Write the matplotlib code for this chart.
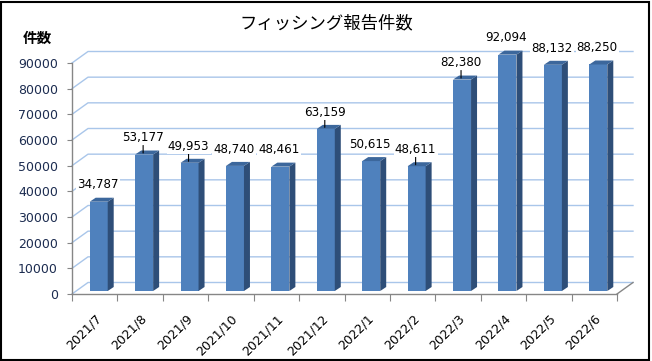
import numpy as np
import matplotlib.pyplot as plt
from matplotlib.patches import Rectangle

# Datos del grafico
months = ['2021/7', '2021/8', '2021/9', '2021/10', '2021/11', '2021/12',
          '2022/1', '2022/2', '2022/3', '2022/4', '2022/5', '2022/6']
counts = [34787, 53177, 49953, 48740, 48461, 63159,
          50615, 48611, 82380, 92094, 88132, 88250]
leader_idx = [1, 2, 5, 7, 8]  # etiquetas con linea guia
title = 'フィッシング報告件数'
y_title = '件数'
y_ticks = list(range(0, 90001, 10000))

W, H = 652, 361
fig = plt.figure(figsize=(W / 100, H / 100), dpi=100)

# eje frontal: x de 72 a 617 px, y de 294 (0) a 63 (90000)
x0_px, x1_px, y0_px, y1_px = 72, 617, 294, 63
ax = fig.add_axes([x0_px / W, (H - y0_px) / H, (x1_px - x0_px) / W, (y0_px - y1_px) / H])
n = len(months)
ax.set_xlim(-0.5, n - 0.5)
ax.set_ylim(0, 90000)
xpp = n / (x1_px - x0_px)        # unidades x por pixel
ypp = 90000 / (y0_px - y1_px)    # unidades y por pixel

grid_c = '#a9c6ea'
axis_c = '#868686'

# pared trasera con lineas de cuadricula
wall_dx, wall_dy = 16 * xpp, 11.5 * ypp
for v in y_ticks:
    ax.plot([-0.5, -0.5 + wall_dx, n - 0.5 + wall_dx], [v, v + wall_dy, v + wall_dy],
            color=grid_c, lw=1, clip_on=False, zorder=0)
# diagonal derecha del piso
ax.plot([n - 0.5, n - 0.5 + wall_dx], [0, wall_dy], color=axis_c, lw=1, clip_on=False, zorder=1)

# barras pseudo 3D
x = np.arange(n)
bw = 18 * xpp
bar_dx, base = 4 * xpp, 3 * ypp
dep_x, dep_y = 6 * xpp, 4 * ypp
front_c, side_c, top_c = '#4f81bd', '#2e4e78', '#3c679c'
for i, v in enumerate(counts):
    xl = x[i] + bar_dx - bw / 2
    xr = xl + bw
    top = base + v
    ax.add_patch(Rectangle((xl, base), bw, v, facecolor=front_c, edgecolor='none', zorder=3, clip_on=False))
    ax.fill([xr, xr + dep_x, xr + dep_x, xr], [base, base + dep_y, top + dep_y, top],
            color=side_c, lw=0, zorder=3, clip_on=False)
    ax.fill([xl, xl + dep_x, xr + dep_x, xr], [top, top + dep_y, top + dep_y, top],
            color=top_c, lw=0, zorder=3, clip_on=False)
    arrow = dict(arrowstyle='-', color='black', lw=0.8, shrinkA=0, shrinkB=0) if i in leader_idx else None
    ax.annotate(f'{v:,}', xy=(x[i] + bar_dx - 1 * xpp, top + 1.5 * ypp), xytext=(0, 11),
                textcoords='offset points', ha='center', va='center', fontsize=8.6,
                color='black', zorder=5, annotation_clip=False,
                bbox=dict(boxstyle='square,pad=0.1', fc='white', ec='none'),
                arrowprops=arrow)

# ejes
for s in ['top', 'right']:
    ax.spines[s].set_visible(False)
for s in ['left', 'bottom']:
    ax.spines[s].set_color(axis_c)
    ax.spines[s].set_linewidth(1)
ax.set_yticks(y_ticks)
ax.set_yticklabels([str(t) for t in y_ticks])
ax.tick_params(axis='y', length=3.6, color=axis_c, pad=6.5, labelsize=9, labelcolor='#1c2c50')
ax.set_xticks(np.arange(-0.5, n, 1.0))
ax.set_xticklabels([])
ax.tick_params(axis='x', which='major', length=5, color=axis_c)
ax.set_xticks(x, minor=True)
ax.set_xticklabels(months, minor=True, rotation=45, ha='right', va='top',
                   rotation_mode='anchor', fontsize=9)
ax.tick_params(axis='x', which='minor', length=0, pad=13)
ax.patch.set_visible(False)

fig.text(326 / W, 1 - 23 / H, title, ha='center', va='center', fontsize=12.5,
         family=['Noto Sans CJK JP', 'DejaVu Sans'])
fig.text(37 / W, 1 - 38 / H, y_title, ha='center', va='center', fontsize=10.5,
         fontweight='bold', family=['Noto Sans CJK JP', 'DejaVu Sans'])

# marco negro
fig.add_artist(Rectangle((0.002, 0.004), 0.994, 0.99, transform=fig.transFigure,
                         fill=False, edgecolor='black', lw=1.5))

fig.savefig('out.png', dpi=100)
